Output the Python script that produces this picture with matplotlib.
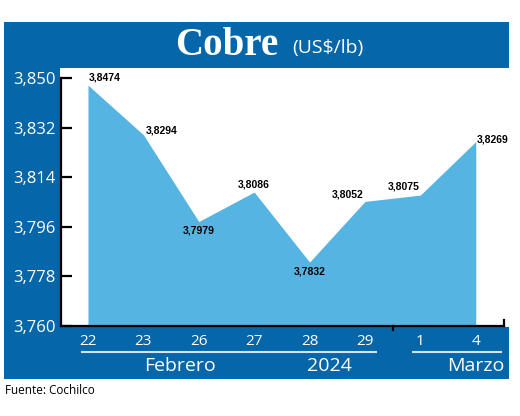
import matplotlib.pyplot as plt
import matplotlib.transforms as mtransforms
from matplotlib.patches import Rectangle

# datos del grafico
dias = ['22', '23', '26', '27', '28', '29', '1', '4']
precios = [3.8474, 3.8294, 3.7979, 3.8086, 3.7832, 3.8052, 3.8075, 3.8269]
etiquetas = ['3,8474', '3,8294', '3,7979', '3,8086', '3,7832', '3,8052', '3,8075', '3,8269']
yticks = [3.760, 3.778, 3.796, 3.814, 3.832, 3.850]
ytick_labels = ['3,760', '3,778', '3,796', '3,814', '3,832', '3,850']

AZUL = '#0566aa'
CELESTE = '#56b4e2'
W, H = 520, 416

fig = plt.figure(figsize=(5.2, 4.16), dpi=100)

def rect(x0, y0, x1, y1, color):
    # coordenadas en pixeles desde arriba a la izquierda
    fig.add_artist(Rectangle((x0 / W, 1 - y1 / H), (x1 - x0) / W, (y1 - y0) / H,
                             transform=fig.transFigure, color=color, lw=0, zorder=0))

rect(4, 22, 509, 379, AZUL)
rect(60, 68, 509, 327, 'white')

ax = fig.add_axes([61 / W, 1 - 326 / H, 443 / W, 258 / H], zorder=2)
ax.set_facecolor('none')

x = list(range(len(dias)))
ax.fill_between(x, precios, 3.760, color=CELESTE, lw=0)
ax.set_xlim(-0.487, 7.51)
ax.set_ylim(3.760, 3.8536)

for s in ['top', 'right']:
    ax.spines[s].set_visible(False)
ax.spines['left'].set_bounds(3.760, 3.850)
ax.spines['left'].set_linewidth(1.6)
ax.spines['bottom'].set_linewidth(1.6)

ax.set_yticks(yticks)
ax.set_yticklabels(ytick_labels, fontsize=12, color='white', family='Open Sans')
ax.tick_params(axis='y', direction='in', length=8, width=1.6, pad=4)
ax.set_xticks(x)
ax.set_xticklabels(dias, fontsize=11, color='white', family='Open Sans')
ax.tick_params(axis='x', length=0, pad=6)

# marcas pequeñas del eje x
ax.plot([1, 1], [0, 0.025], transform=ax.transAxes, color='black', lw=1.6, clip_on=False)
sep = mtransforms.blended_transform_factory(ax.transData, ax.transAxes)
ax.plot([5.5, 5.5], [0, -0.015], transform=sep, color='black', lw=1.6, clip_on=False)

# etiquetas de valores
pos = [('left', 'baseline', 0.5, 3), ('left', 'center', 1.5, 3), ('center', 'top', 0, -3),
       ('center', 'baseline', 0, 3), ('center', 'top', 0, -3), ('right', 'baseline', -1, 3),
       ('right', 'baseline', -0.5, 4), ('left', 'center', 1, 1.5)]
for i in range(len(precios)):
    ha, va, dx, dy = pos[i]
    ax.annotate(etiquetas[i], (x[i], precios[i]), xytext=(dx, dy), textcoords='offset points',
                ha=ha, va=va, fontsize=7.5, fontweight='bold',
                family='Liberation Sans', color='black')

# meses
ax.plot([-0.1, 5.2], [-0.10, -0.10], transform=sep, color='#d6e4f0', lw=1.5, clip_on=False)
ax.plot([5.87, 7.45], [-0.10, -0.10], transform=sep, color='#d6e4f0', lw=1.5, clip_on=False)
ax.text(1.66, -0.155, 'Febrero', transform=sep, ha='center', va='center', color='white',
        fontsize=14, family='Open Sans')
ax.text(4.35, -0.155, '2024', transform=sep, ha='center', va='center', color='white',
        fontsize=14, family='Open Sans')
ax.text(7.0, -0.155, 'Marzo', transform=sep, ha='center', va='center', color='white',
        fontsize=14, family='Open Sans')

# titulo
fig.text(278 / W, 1 - 55 / H, 'Cobre', ha='right', va='baseline', color='white',
         fontsize=28, fontweight='bold', family='Liberation Serif')
fig.text(292 / W, 1 - 53 / H, '(US$/lb)', ha='left', va='baseline', color='white',
         fontsize=14, family='Open Sans')

fig.text(5 / W, 1 - 390 / H, 'Fuente: Cochilco', ha='left', va='center', color='black',
         fontsize=8.5, family='Open Sans')

fig.savefig('out.png', dpi=100)
